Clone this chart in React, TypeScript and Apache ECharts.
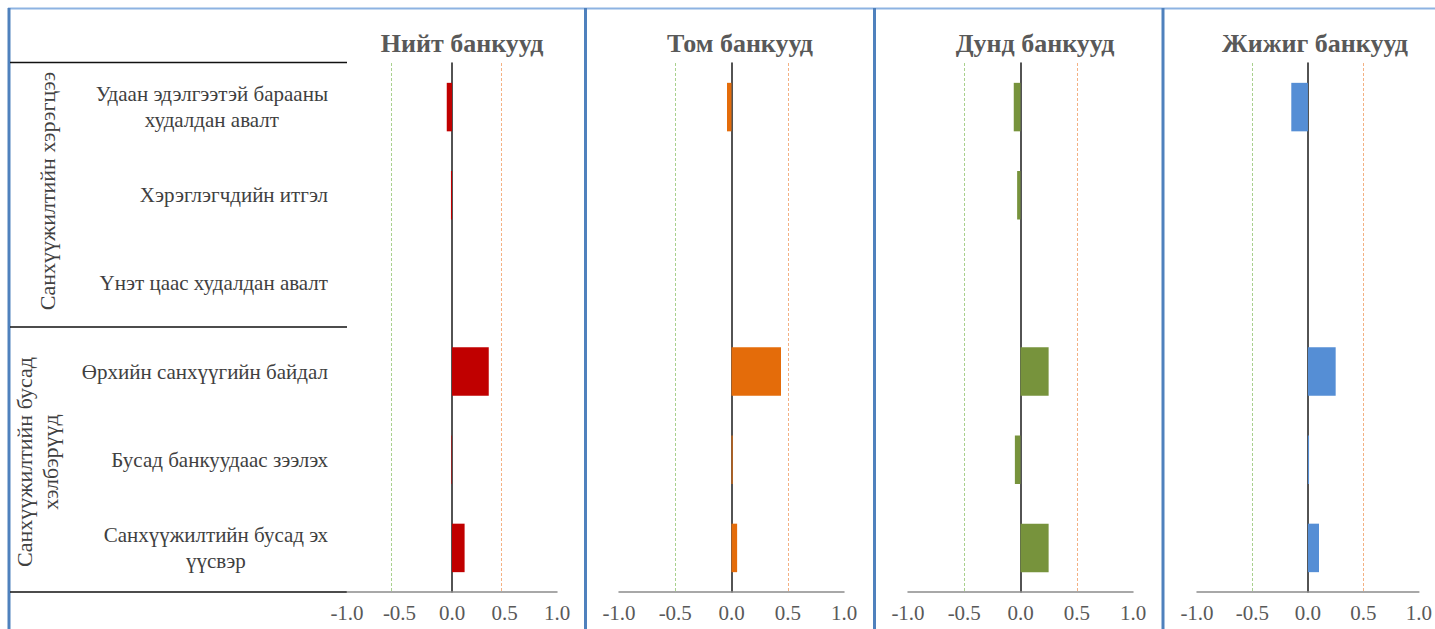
import React, { useEffect, useRef } from "react";
import * as echarts from "echarts";

const categories = [
  "Удаан эдэлгээтэй барааны\nхудалдан авалт",
  "Хэрэглэгчдийн итгэл",
  "Үнэт цаас худалдан авалт",
  "Өрхийн санхүүгийн байдал",
  "Бусад банкуудаас зээлэх",
  "Санхүүжилтийн бусад эх\nүүсвэр",
];

const panelTitles = ["Нийт банкууд", "Том банкууд", "Дунд банкууд", "Жижиг банкууд"];

const totalBanks = [-0.05, -0.01, 0, 0.35, -0.005, 0.12];
const largeBanks = [-0.04, 0, 0, 0.44, 0.01, 0.05];
const mediumBanks = [-0.06, -0.03, 0, 0.25, -0.05, 0.25];
const smallBanks = [-0.15, 0, 0, 0.25, 0.01, 0.1];

const lowerRefs = [-0.58, -0.5, -0.5, -0.5];
const upperRefs = [0.47, 0.5, 0.5, 0.5];

const groupLabels = ["Санхүүжилтийн хэрэгцээ", "Санхүүжилтийн бусад\nхэлбэрүүд"];

const xMin = -1;
const xMax = 1;
const xInterval = 0.5;

const panelSeries = [totalBanks, largeBanks, mediumBanks, smallBanks];
const panelColors = ["#C00000", "#E46C0A", "#77933C", "#558ED5"];
const gridBoxes = [
  { left: 347, width: 210 },
  { left: 619, width: 225 },
  { left: 908, width: 225 },
  { left: 1197, width: 224 },
];
const titleCenters = [462, 740, 1035, 1315];
const GRID_TOP = 63;
const GRID_H = 529;
const FONT = "Liberation Serif";

export default function App() {
  const ref = useRef<HTMLDivElement>(null);
  useEffect(() => {
    if (!ref.current) return;
    const chart = echarts.init(ref.current, undefined, { renderer: "svg" });

    const grids = gridBoxes.map((g) => ({
      left: g.left,
      width: g.width,
      top: GRID_TOP,
      height: GRID_H,
      containLabel: false,
    }));

    const xAxes = gridBoxes.map((_, i) => ({
      type: "value",
      gridIndex: i,
      min: xMin,
      max: xMax,
      interval: xInterval,
      splitLine: { show: false },
      axisTick: { show: false },
      axisLine: { show: true, lineStyle: { color: "#8C8C8C", width: 1.5 } },
      axisLabel: {
        color: "#595959",
        fontFamily: FONT,
        fontSize: 21,
        margin: 10,
        formatter: (v: number) => v.toFixed(1),
      },
    }));

    const yAxes = gridBoxes.map((_, i) => ({
      type: "category",
      gridIndex: i,
      data: categories,
      inverse: true,
      axisTick: { show: false },
      splitLine: { show: false },
      axisLine: { show: true, onZero: true, lineStyle: { color: "#1a1a1a", width: 1.5 } },
      axisLabel:
        i === 0
          ? {
              show: true,
              margin: 19,
              color: "#404040",
              fontFamily: FONT,
              fontSize: 21,
              lineHeight: 26,
              formatter: (v: string) =>
                v
                  .split("\n")
                  .map((l) => `{c|${l}}`)
                  .join("\n"),
              rich: {
                c: {
                  align: "center",
                  color: "#404040",
                  fontFamily: FONT,
                  fontSize: 21,
                  lineHeight: 26,
                },
              },
            }
          : { show: false },
    }));

    const refLine = (i: number, value: number, color: string) => ({
      type: "line",
      xAxisIndex: i,
      yAxisIndex: i,
      data: [],
      silent: true,
      markLine: {
        silent: true,
        symbol: "none",
        label: { show: false },
        lineStyle: { color, width: 1, type: [3, 2] },
        data: [{ xAxis: value }],
      },
    });

    const series: any[] = [];
    panelSeries.forEach((data, i) => {
      series.push({
        type: "bar",
        xAxisIndex: i,
        yAxisIndex: i,
        data,
        barCategoryGap: "45%",
        itemStyle: { color: panelColors[i] },
        z: 2,
      });
      series.push(refLine(i, lowerRefs[i], "#A9D18E"));
      series.push(refLine(i, upperRefs[i], "#F4B183"));
    });

    const blue = "#4F81BD";
    const graphics: any[] = [
      { type: "line", shape: { x1: 8, y1: 8.5, x2: 1435, y2: 8.5 }, style: { stroke: "#8DB3E2", lineWidth: 2 } },
      { type: "line", shape: { x1: 9, y1: 8, x2: 9, y2: 629 }, style: { stroke: blue, lineWidth: 3 } },
      { type: "line", shape: { x1: 585.5, y1: 8, x2: 585.5, y2: 629 }, style: { stroke: blue, lineWidth: 3 } },
      { type: "line", shape: { x1: 874.5, y1: 8, x2: 874.5, y2: 629 }, style: { stroke: blue, lineWidth: 3 } },
      { type: "line", shape: { x1: 1163, y1: 8, x2: 1163, y2: 629 }, style: { stroke: blue, lineWidth: 3 } },
      { type: "line", shape: { x1: 10, y1: 62.5, x2: 347, y2: 62.5 }, style: { stroke: "#111", lineWidth: 1.5 } },
      { type: "line", shape: { x1: 10, y1: 327, x2: 347, y2: 327 }, style: { stroke: "#111", lineWidth: 1.5 } },
      { type: "line", shape: { x1: 10, y1: 592, x2: 347, y2: 592 }, style: { stroke: "#111", lineWidth: 1.5 } },
      {
        type: "text",
        x: 47,
        y: 191,
        rotation: Math.PI / 2,
        style: {
          text: groupLabels[0],
          fill: "#404040",
          fontFamily: FONT,
          fontSize: 22,
          align: "center",
          verticalAlign: "middle",
        },
      },
      {
        type: "text",
        x: 37,
        y: 462,
        rotation: Math.PI / 2,
        style: {
          text: groupLabels[1],
          fill: "#404040",
          fontFamily: FONT,
          fontSize: 22,
          lineHeight: 26,
          align: "center",
          verticalAlign: "middle",
        },
      },
      ...panelTitles.map((t, i) => ({
        type: "text",
        x: titleCenters[i],
        y: 43,
        style: {
          text: t,
          fill: "#595959",
          fontFamily: FONT,
          fontWeight: "bold",
          fontSize: 26,
          align: "center",
          verticalAlign: "middle",
        },
      })),
    ];

    chart.setOption({
      animation: false,
      backgroundColor: "#ffffff",
      textStyle: { fontFamily: FONT },
      grid: grids,
      xAxis: xAxes,
      yAxis: yAxes,
      series,
      graphic: graphics,
    });
    return () => chart.dispose();
  }, []);

  return (
    <div
      ref={ref}
      style={{ position: "fixed", left: 0, top: 0, width: 1435, height: 629, background: "#fff" }}
    />
  );
}
